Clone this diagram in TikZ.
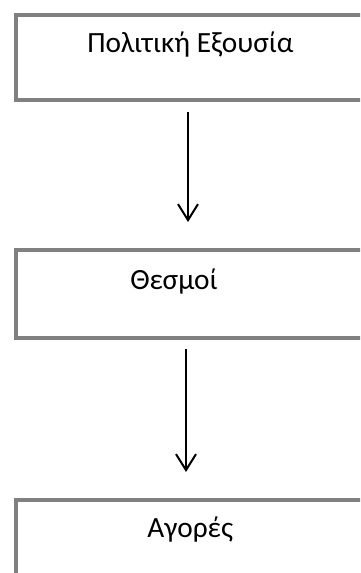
\documentclass[tikz,border=0pt]{standalone}
\usepackage{fontspec}
\setmainfont{Carlito}
\usetikzlibrary{arrows.meta}
\definecolor{boxgray}{RGB}{128,128,128}
\tikzset{
  boxframe/.style={draw=boxgray, line width=3pt, fill=white, inner sep=0pt, anchor=north west},
  boxtext/.style={inner sep=0pt, anchor=base west, font=\fontsize{22pt}{26pt}\selectfont},
  flowarrow/.style={draw=black, line width=1.5pt, -{Straight Barb[length=12pt, width=15pt, line width=1.5pt]}}
}
\begin{document}
\begin{tikzpicture}[x=0.75pt, y=-0.75pt]
\useasboundingbox (0,0) rectangle (360,573);
\begin{scope}
\clip (0,0) rectangle (360,573);
\node[boxframe, minimum width=280pt, minimum height=63.75pt] (b1) at (14,13) {};
\node[boxframe, minimum width=280pt, minimum height=66pt] (b2) at (14,248) {};
\node[boxframe, minimum width=280pt, minimum height=80pt] (b3) at (14,498) {};
\end{scope}
\node[boxtext] (t1) at (87,53) {Πολιτική Εξουσία};
\node[boxtext] (t2) at (130,289) {Θεσμοί};
\node[boxtext] (t3) at (147,537) {Αγορές};
\coordinate (a1s) at (188,112);
\coordinate (a1e) at (188,222);
\coordinate (a2s) at (186,349);
\coordinate (a2e) at (186,472);
\draw[flowarrow] (a1s) -- (a1e);
\draw[flowarrow] (a2s) -- (a2e);
\end{tikzpicture}
\end{document}
